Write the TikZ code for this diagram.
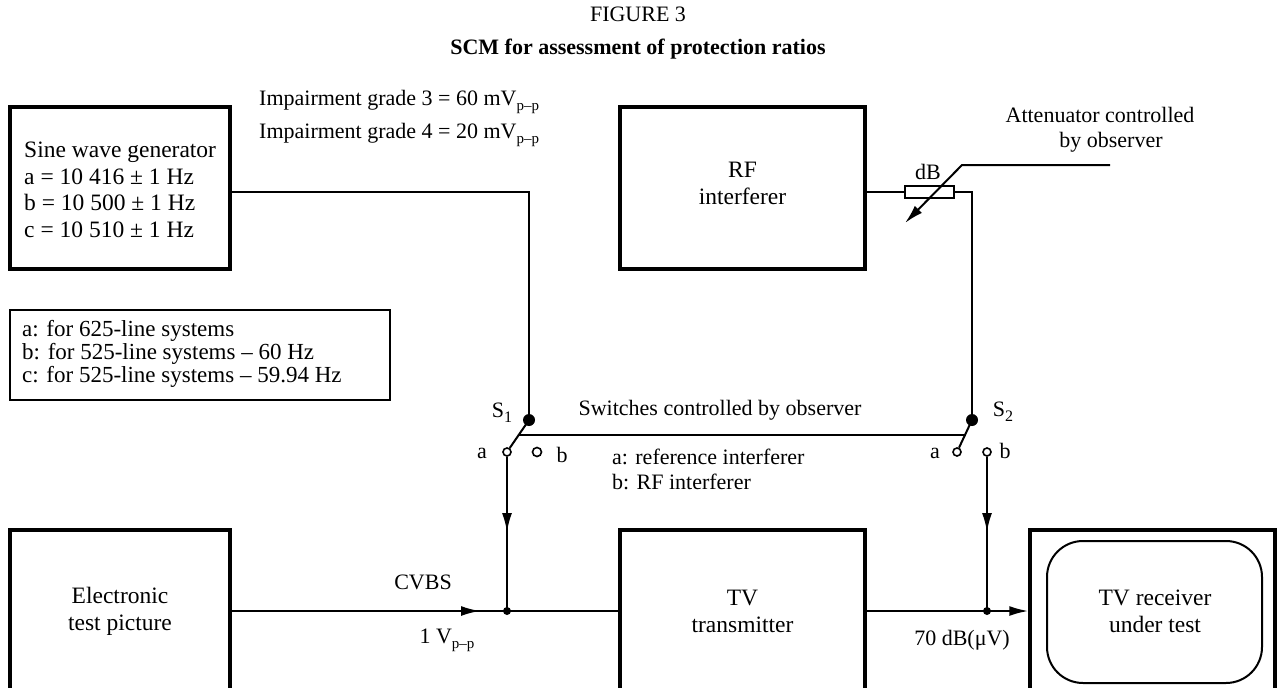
\documentclass[tikz,border=0pt]{standalone}
\usepackage{fontspec}
\setmainfont{Liberation Serif}
\usetikzlibrary{arrows.meta}
\newcommand{\mysubpp}{\raisebox{-0.5ex}{\fontsize{15}{15}\selectfont p–p}}
\newcommand{\mysubone}[1]{\raisebox{-0.5ex}{\fontsize{16}{16}\selectfont #1}}
\begin{document}
\begin{tikzpicture}[x=1pt,y=-1pt,
  every node/.style={font=\fontsize{22}{25}\selectfont, inner sep=0pt},
  boxtext/.style={align=center, font=\fontsize{23.5}{27}\selectfont},
  thickbox/.style={draw, line width=3.5pt, minimum width=220pt, minimum height=162pt},
  wire/.style={line width=2pt},
  arr/.style={wire, -{Latex[length=19pt,width=10pt]}},
  dotn/.style={circle, fill, minimum size=12pt},
  jdot/.style={circle, fill, minimum size=8pt},
  contact/.style={circle, draw, line width=1.6pt, minimum size=8pt},
]
\useasboundingbox (0,0) rectangle (1277,688);
\clip (0,0) rectangle (1277,688);

% titles
\node (t1) at (638,14) {FIGURE 3};
\node (t2) at (638,49) {\bfseries SCM for assessment of protection ratios};

% boxes
\node[thickbox] (sine) at (120,188) {};
\node[align=left, anchor=west, font=\fontsize{23.5}{26.5}\selectfont] (sinet) at (24,190)
  {Sine wave generator\\a = 10 416 ± 1 Hz\\b = 10 500 ± 1 Hz\\c = 10 510 ± 1 Hz};
\node[thickbox, minimum width=245pt] (rf) at (742.5,188) {};
\node[boxtext] (rft) at (742.5,183) {RF\\interferer};

\node[draw, line width=1.6pt, minimum width=380pt, minimum height=90pt] (leg) at (200,355) {};
\node[align=left, anchor=west, font=\fontsize{23}{23}\selectfont] (legt) at (22,354)
  {a: for 625-line systems\\b: for 525-line systems – 60 Hz\\c: for 525-line systems – 59.94 Hz};

\node[draw, line width=3.5pt, minimum width=220pt, minimum height=170pt] (etp) at (120,615) {};
\node[boxtext] (etpt) at (120,611) {Electronic\\test picture};
\node[draw, line width=3.5pt, minimum width=245pt, minimum height=170pt] (tvt) at (742.5,615) {};
\node[boxtext] (tvtt) at (742.5,611) {TV\\transmitter};
\node[draw, line width=3.5pt, minimum width=245pt, minimum height=170pt] (rx) at (1152.5,615) {};
\node[draw, line width=2pt, rounded corners=36pt, minimum width=215pt, minimum height=142pt] (scr) at (1154.5,612) {};
\node[boxtext] (rxt) at (1155,611) {TV receiver\\under test};

% labels
\node[anchor=west] (imp3) at (259,102) {Impairment grade 3 = 60 mV\mysubpp};
\node[anchor=west] (imp4) at (259,135) {Impairment grade 4 = 20 mV\mysubpp};
\node[align=center] (att) at (1100,130) {Attenuator controlled\\\hspace*{1em}by observer};
\node (dbl) at (928,172) {dB};
\node (swl) at (720,410) {Switches controlled by observer};
\node[align=left, anchor=west] (abl) at (612,469) {a: reference interferer\\b: RF interferer};
\node (cvbs) at (423,582) {CVBS};
\node (vpp) at (447,640) {1 V\mysubpp};
\node (dbuv) at (962,640) {70 dB(μV)};

% switch S1
\node[dotn] (s1) at (529,420) {};
\node (s1l) at (502,413) {S\mysubone{1}};
\node[contact] (c1a) at (507,452) {};
\node[contact, minimum width=9pt, minimum height=7pt] (c1b) at (537,452) {};
\node (c1al) at (482,453) {a};
\node (c1bl) at (562,455) {b};
% switch S2
\node[dotn] (s2) at (972,420) {};
\node (s2l) at (1003,412) {S\mysubone{2}};
\node[contact] (c2a) at (957,452) {};
\node[contact] (c2b) at (987,452) {};
\node (c2al) at (935,453) {a};
\node (c2bl) at (1005,451) {b};

% resistor
\node[draw, line width=1.6pt, minimum width=49pt, minimum height=12pt] (res) at (929.5,192) {};

% coordinates
\coordinate (b1) at (518,435);
\coordinate (b2) at (966,435);
\coordinate (ar1) at (507,532);
\coordinate (ar2) at (987,532);
\coordinate (arc) at (480,611);
\coordinate (attk) at (962,165);
\coordinate (atte) at (1110,165);
\coordinate (attt) at (905,223);
\node[jdot] (j1) at (507,611) {};
\node[jdot] (j2) at (987,611) {};

% wiring
\draw[wire] (sine.east |- 0,192) -- (529,192) -- (s1.center);
\draw[wire] (rf.east |- 0,192) -- (res.west);
\draw[wire] (res.east) -- (972,192) -- (s2.center);
\draw[wire] (s1.center) -- (c1a);
\draw[wire] (s2.center) -- (c2a);
\draw[wire] (b1) -- (b2);
\draw[arr] (atte) -- (attk) -- (attt);
\draw[wire] (c1a) -- (j1.center);
\draw[arr] (c1a) -- (ar1);
\draw[wire] (c2b) -- (j2.center);
\draw[arr] (c2b) -- (ar2);
\draw[wire] (etp.east |- 0,611) -- (tvt.west |- 0,611);
\draw[arr] (etp.east |- 0,611) -- (arc);
\draw[arr] (tvt.east |- 0,611) -- (rx.west |- 0,611);
\end{tikzpicture}
\end{document}
